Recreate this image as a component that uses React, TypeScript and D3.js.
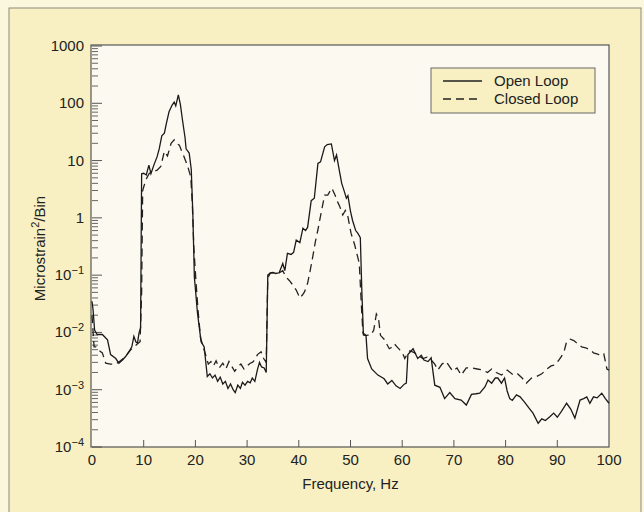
import React from "react";
import * as d3 from "d3";

// [frequency Hz, microstrain^2/bin]
const openLoop: [number, number][] = [
  [0, 0.035], [0.2, 0.025], [0.5, 0.011], [1, 0.0092], [2, 0.0092], [3, 0.0074], [3.6, 0.0041],
  [4.6, 0.0035], [5.2, 0.0029], [5.9, 0.0033], [6.5, 0.0038], [7.2, 0.0047], [7.7, 0.0056],
  [8.1, 0.0085], [8.5, 0.0068], [8.8, 0.0065], [9.1, 0.0098], [9.4, 0.012], [9.6, 5.9],
  [10, 6.0], [10.5, 5.6], [11, 8.3], [11.4, 5.9], [12, 8.5], [12.6, 11.7], [13, 16], [13.5, 27],
  [14, 30], [14.4, 45], [14.9, 71], [15.5, 93], [15.9, 105], [16.2, 90], [16.7, 140], [17.1, 95],
  [17.5, 51], [18, 25], [18.2, 16], [18.8, 13.5], [19.2, 7], [19.5, 1.2], [19.8, 0.093],
  [20.4, 0.022], [21.1, 0.0069], [21.7, 0.0056], [22.3, 0.0017], [22.8, 0.0019], [23.3, 0.0016],
  [23.8, 0.0018], [24.3, 0.0014], [24.8, 0.00166], [25.3, 0.00126], [25.8, 0.0014], [26.3, 0.00105],
  [26.8, 0.00126], [27.3, 0.001], [27.7, 0.00089], [28.2, 0.0012], [28.7, 0.00105], [29.1, 0.00135],
  [29.6, 0.0012], [30.1, 0.0014], [30.6, 0.00132], [31, 0.0016], [31.5, 0.0014], [32, 0.00224],
  [32.4, 0.003], [32.8, 0.0025], [33.3, 0.0024], [33.7, 0.002], [34, 0.1], [34.5, 0.11],
  [35, 0.112], [35.5, 0.107], [36.2, 0.11], [36.9, 0.16], [37.3, 0.12], [37.8, 0.24], [38.5, 0.23],
  [39, 0.25], [39.5, 0.41], [40.2, 0.37], [40.8, 0.66], [41.3, 0.6], [41.7, 0.68], [42.4, 2.0],
  [43, 2.2], [43.7, 8.9], [44.2, 9.5], [45, 17.4], [45.5, 19], [46.3, 19.5], [46.9, 10],
  [47.3, 12.5], [47.8, 7], [48.3, 4], [48.8, 2.9], [49.2, 2.2], [49.5, 2.45], [50, 1.3],
  [50.4, 0.9], [51, 0.6], [51.4, 0.54], [51.9, 0.45], [52.2, 0.05], [52.5, 0.009], [53, 0.0088],
  [53.3, 0.0035], [54.1, 0.0023], [55.3, 0.0018], [56.5, 0.00155], [57.2, 0.00126], [58, 0.00145],
  [58.8, 0.00117], [59.6, 0.00105], [60.4, 0.00125], [60.8, 0.0013], [61.1, 0.0041], [62.1, 0.0052],
  [63, 0.0035], [63.7, 0.004], [64.2, 0.0033], [65, 0.0031], [65.6, 0.0036], [66.3, 0.0012],
  [67.3, 0.0011], [68.2, 0.0007], [69.2, 0.00089], [70.2, 0.0007], [71.4, 0.00066], [72.4, 0.00054],
  [73.4, 0.00083], [74.3, 0.00085], [75, 0.00087], [76, 0.00112], [76.6, 0.00148], [77.3, 0.0013],
  [78, 0.0016], [78.5, 0.0016], [79.2, 0.0013], [79.8, 0.0016], [80.3, 0.00095], [80.8, 0.0007],
  [81.3, 0.00065], [82.1, 0.00081], [82.8, 0.00075], [83.7, 0.0006], [84.5, 0.00048], [85.3, 0.00039],
  [86.3, 0.00026], [87, 0.00031], [87.7, 0.00029], [88.6, 0.00034], [89.3, 0.00039], [90, 0.00033],
  [90.8, 0.00042], [91.8, 0.00058], [92.6, 0.00046], [93.4, 0.00032], [94.4, 0.00066], [95.1, 0.0007],
  [95.7, 0.00075], [96.3, 0.00058], [97, 0.00075], [97.7, 0.00072], [98.6, 0.00087], [99.3, 0.0007],
  [100, 0.00058],
];

const closedLoop: [number, number][] = [
  [0, 0.02], [0.4, 0.0056], [0.8, 0.0056], [1.4, 0.0048], [2, 0.0044], [2.65, 0.0029], [3.6, 0.0028],
  [4.6, 0.0028], [5.5, 0.0032], [6.5, 0.0038], [7.5, 0.005], [8.1, 0.0056], [8.7, 0.0062],
  [9.3, 0.0069], [9.6, 0.05], [9.8, 3.0], [10.1, 3.7], [10.6, 5.0], [11.1, 6.0], [12, 6.5],
  [12.6, 6.8], [13.3, 7.9], [14, 14.5], [14.6, 12], [15.3, 20], [15.9, 23], [16.3, 20], [16.9, 18.6],
  [17.3, 15], [17.8, 11.7], [18.5, 8], [19.1, 5.2], [19.4, 1.8], [19.7, 0.3], [20.1, 0.08],
  [20.5, 0.025], [21, 0.008], [21.5, 0.0056], [22, 0.004], [22.5, 0.0028], [23, 0.0031],
  [23.5, 0.0026], [24, 0.0032], [24.6, 0.0024], [25.3, 0.0029], [25.9, 0.0023], [26.5, 0.0031],
  [27.1, 0.0025], [27.6, 0.0021], [28.2, 0.0025], [28.8, 0.0028], [29.4, 0.0023], [30, 0.0026],
  [30.6, 0.0029], [31, 0.003], [31.5, 0.0033], [32, 0.0041], [32.7, 0.0046], [33.2, 0.0035],
  [33.7, 0.003], [34, 0.09], [34.5, 0.108], [35.3, 0.11], [36.2, 0.11], [36.9, 0.12], [37.5, 0.093],
  [38.2, 0.08], [38.8, 0.068], [39.5, 0.055], [40.2, 0.04], [40.7, 0.045], [41.1, 0.051],
  [41.7, 0.072], [42.2, 0.12], [42.7, 0.21], [43.2, 0.38], [43.7, 0.62], [44.3, 1.2], [45, 2.5],
  [45.6, 2.5], [46.4, 3.3], [47, 2.5], [47.5, 1.9], [47.9, 1.6], [48.5, 1.12], [49, 1.35],
  [49.5, 1.05], [50.1, 0.54], [50.8, 0.34], [51.7, 0.16], [52.1, 0.03], [52.4, 0.0098], [53, 0.0089],
  [54, 0.0091], [54.5, 0.011], [55, 0.021], [55.4, 0.018], [55.8, 0.0089], [56.5, 0.0076],
  [57, 0.0063], [57.5, 0.0052], [58, 0.0055], [58.5, 0.0063], [59, 0.0056], [59.5, 0.005],
  [60, 0.0045], [60.5, 0.0035], [61, 0.0042], [61.5, 0.0048], [62.4, 0.0044], [63, 0.004],
  [64, 0.0035], [64.8, 0.0037], [65.6, 0.0033], [66.3, 0.0028], [66.9, 0.0022], [67.7, 0.0028],
  [68.5, 0.0031], [69.2, 0.0025], [69.8, 0.0021], [70.6, 0.0024], [71.4, 0.0018], [72.4, 0.0024],
  [73.4, 0.0024], [74.5, 0.0023], [75.6, 0.0022], [76.5, 0.002], [77.3, 0.0023], [78.2, 0.002],
  [79.2, 0.0018], [80.3, 0.0022], [81.5, 0.0018], [82.3, 0.0019], [83.2, 0.0016], [84, 0.0013],
  [85, 0.0016], [86, 0.0017], [87, 0.0019], [88, 0.0023], [88.8, 0.0026], [89.5, 0.0027],
  [90.2, 0.0032], [90.8, 0.0038], [91.4, 0.005], [91.8, 0.0069], [92.5, 0.0076], [93.2, 0.0072],
  [94, 0.0063], [94.7, 0.0056], [95.5, 0.0054], [96.3, 0.005], [97, 0.0044], [97.8, 0.0042],
  [98.4, 0.0039], [99, 0.0042], [99.6, 0.0023], [100, 0.0022],
];

const xTicks = [0, 10, 20, 30, 40, 50, 60, 70, 80, 90, 100];
const yDecades = [-4, -3, -2, -1, 0, 1, 2, 3];
const plainLabels: Record<number, string> = { 0: "1", 1: "10", 2: "100", 3: "1000" };
const legendItems = [
  { name: "Open Loop", dash: "none" },
  { name: "Closed Loop", dash: "8,5" },
];

const font = "'Liberation Sans', Arial, sans-serif";

export default function App() {
  const W = 644, H = 512;
  const left = 92, right = 609, top = 46, bottom = 447;

  const x = d3.scaleLinear().domain([0, 100]).range([left, right]);
  const y = d3.scaleLog().domain([1e-4, 1000]).range([bottom, top]);

  const line = d3.line<[number, number]>()
    .x(d => x(d[0]))
    .y(d => y(d[1]));

  const minor: number[] = [];
  yDecades.slice(0, -1).forEach(e => {
    for (let k = 2; k <= 9; k++) minor.push(k * Math.pow(10, e));
  });

  return (
    <svg width={W} height={H} style={{ position: "fixed", left: 0, top: 0 }} fontFamily={font}>
      <rect x={0} y={0} width={W} height={H} fill="#fbf7dc" />
      <rect x={9} y={8} width={632} height={530} fill="#f8f0c3" stroke="#8c8a7c" strokeWidth={1} />
      <rect x={left - 1} y={top - 1} width={right - left + 1} height={bottom - top + 1}
        fill="#fcfaf0" stroke="#555" strokeWidth={1.2} />

      {/* y ticks */}
      {yDecades.map(e => (
        <line key={"M" + e} x1={left} x2={left + 10} y1={y(Math.pow(10, e))} y2={y(Math.pow(10, e))}
          stroke="#555" strokeWidth={1} />
      ))}
      {minor.map((v, i) => (
        <line key={"m" + i} x1={left} x2={left + 6} y1={y(v)} y2={y(v)} stroke="#555" strokeWidth={0.9} />
      ))}
      {yDecades.map(e => (
        <text key={"L" + e} x={84} y={y(Math.pow(10, e)) + 5} textAnchor="end" fontSize={15} fill="#222">
          {plainLabels[e] !== undefined ? plainLabels[e] : (
            <>
              <tspan>10</tspan>
              <tspan dy={-6} fontSize={11}>{"\u2212" + Math.abs(e)}</tspan>
            </>
          )}
        </text>
      ))}

      {/* x ticks */}
      {xTicks.slice(1, -1).map(t => (
        <line key={"x" + t} x1={x(t)} x2={x(t)} y1={bottom} y2={bottom - 7} stroke="#555" strokeWidth={1} />
      ))}
      {xTicks.map(t => (
        <text key={"xl" + t} x={x(t)} y={465} textAnchor="middle" fontSize={15} fill="#222">{t}</text>
      ))}

      <text x={(left + right) / 2} y={489} textAnchor="middle" fontSize={15} fill="#222">Frequency, Hz</text>
      <text transform={`translate(45, ${(top + bottom) / 2 + 2}) rotate(-90)`} textAnchor="middle" fontSize={15} fill="#222">
        Microstrain<tspan dy={-6} fontSize={11}>2</tspan><tspan dy={6}>/Bin</tspan>
      </text>

      <path d={line(closedLoop) || ""} fill="none" stroke="#222" strokeWidth={1.3} strokeDasharray="8,5" />
      <path d={line(openLoop) || ""} fill="none" stroke="#1a1a1a" strokeWidth={1.3} />

      {/* legend */}
      <rect x={431} y={68} width={164} height={45} fill="#f8f0c3" stroke="#666" strokeWidth={1} />
      {legendItems.map((it, i) => (
        <g key={it.name} transform={`translate(0, ${81 + i * 18})`}>
          <line x1={443} x2={482} y1={0} y2={0} stroke="#222" strokeWidth={1.3} strokeDasharray={it.dash} />
          <text x={494} y={5} fontSize={15} fill="#222">{it.name}</text>
        </g>
      ))}
    </svg>
  );
}
